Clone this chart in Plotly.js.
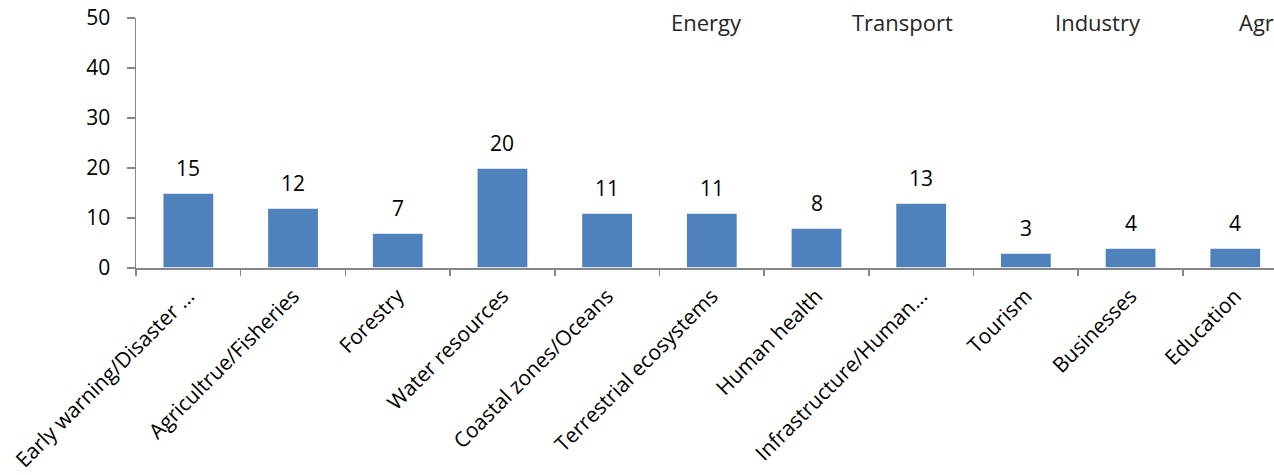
<!DOCTYPE html>
<html>
<head>
<meta charset="utf-8">
<script src="https://cdn.plot.ly/plotly-3.0.1.min.js"></script>
<style>html,body{margin:0;padding:0;background:#fff;overflow:hidden}#chart{width:1274px;height:475px}</style>
</head>
<body>
<div id="chart"></div>
<script>
const categories = ["Early warning/Disaster ...", "Agricultrue/Fisheries", "Forestry", "Water resources", "Coastal zones/Oceans", "Terrestrial ecosystems", "Human health", "Infrastructure/Human...", "Tourism", "Businesses", "Education"];
const values = [15, 12, 7, 20, 11, 11, 8, 13, 3, 4, 4];
const topLabels = ["Energy", "Transport", "Industry", "Agr"];
const topLabelX = [669, 850, 1053, 1237];
const yTicks = [0, 10, 20, 30, 40, 50];

const font = "Open Sans, Lato, sans-serif";
const ML = 136, MT = 18, PW = 1274 - 136, PH = 250;

const annotations = categories.map((c, i) => ({
  x: c, y: values[i], xref: 'x', yref: 'y', text: String(values[i]),
  showarrow: false, yanchor: 'bottom', yshift: 9,
  font: {family: font, size: 21, color: '#000'}
})).concat(topLabels.map((t, i) => ({
  x: (topLabelX[i] - ML) / PW, y: 1 - (22 - MT) / PH, xref: 'paper', yref: 'paper',
  yanchor: 'middle', xanchor: 'left',
  text: t, showarrow: false, font: {family: font, size: 22, color: '#262626'}
})));

const data = [{
  type: 'bar', x: categories, y: values,
  marker: {color: '#4F81BD', line: {color: '#ffffff', width: 1.5}},
  width: 0.49, hoverinfo: 'none'
}];

const layout = {
  width: 1274, height: 475,
  margin: {l: ML, r: 0, t: MT, b: 475 - MT - PH, pad: 0},
  paper_bgcolor: '#fff', plot_bgcolor: '#fff',
  showlegend: false,
  font: {family: font, color: '#000'},
  xaxis: {
    type: 'category', range: [-0.5, 10.37],
    showline: true, linecolor: '#868686', linewidth: 1.5,
    ticks: 'outside', tickson: 'boundaries', ticklen: 6, tickcolor: '#868686', tickwidth: 1.5,
    tickangle: -45, tickfont: {family: font, size: 21, color: '#000'},
    ticklabelstandoff: 6,
    showgrid: false, zeroline: false
  },
  yaxis: {
    range: [0, 50], tickvals: yTicks, ticktext: yTicks.map(String),
    showline: true, linecolor: '#868686', linewidth: 1.5,
    ticks: 'outside', ticklen: 8, tickcolor: '#868686', tickwidth: 1.5,
    tickfont: {family: font, size: 21, color: '#000'},
    ticklabelstandoff: 12,
    showgrid: false, zeroline: false
  },
  annotations: annotations
};

Plotly.newPlot('chart', data, layout, {staticPlot: true, displayModeBar: false});
</script>
</body>
</html>
